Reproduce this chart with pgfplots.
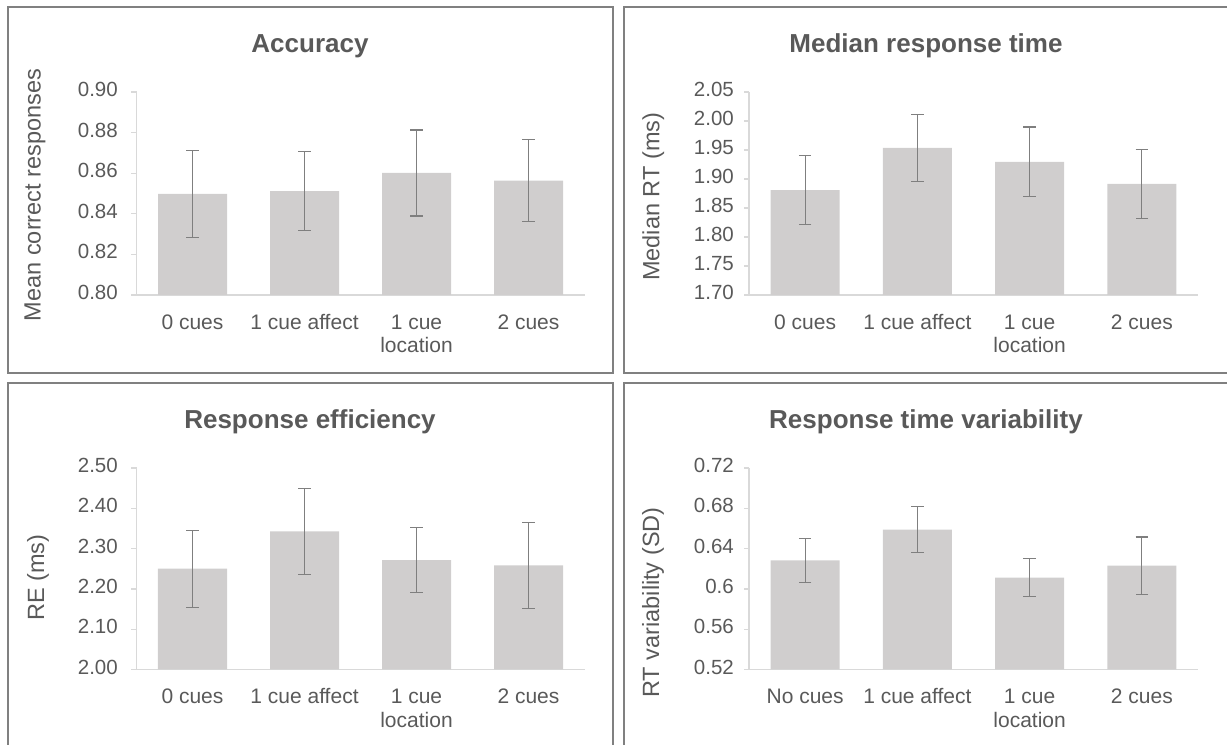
\documentclass[border=0pt]{standalone}
\usepackage{pgfplots}
\pgfplotsset{compat=1.18}
\usepackage{fontspec}
\setmainfont{Liberation Sans}
\definecolor{bargray}{HTML}{D0CECE}
\definecolor{errgray}{HTML}{7F7F7F}
\definecolor{axgray}{HTML}{D9D9D9}
\definecolor{txtgray}{HTML}{595959}
\definecolor{framegray}{HTML}{808080}
\pgfplotsset{
  panel/.style={
    scale only axis, anchor=south west,
    axis lines*=left,
    axis line style={draw=axgray, line width=1.3bp},
    xmin=-0.5, xmax=3.5,
    xtick={0,1,2,3},
    major x tick style={draw=none},
    major y tick style={draw=axgray, line width=1.3bp},
    major tick length=5bp, tick align=outside,
    /pgf/number format/assume math mode=true,
    yticklabel style={font=\fontsize{20.5bp}{23bp}\selectfont, text=txtgray},
    xticklabel style={font=\fontsize{21bp}{23.5bp}\selectfont, text=txtgray,
      align=center, anchor=north, inner sep=0pt, yshift=-12.8bp},
    typeset ticklabels with strut,
    xticklabels={{0 cues},{1 cue affect},{1 cue\\location},{2 cues}},
    every axis y label/.style={rotate=90, anchor=center,
      font=\fontsize{23.5bp}{27bp}\selectfont, text=txtgray},
    every axis title/.style={anchor=base,
      font=\bfseries\fontsize{26bp}{30bp}\selectfont, text=txtgray},
    clip=true,
  },
  leftpanel/.style={
    yticklabel style={anchor=east, inner sep=0pt, xshift=-13.5bp},
  },
  rightpanel/.style={
    yticklabel style={anchor=east, inner sep=0pt, xshift=-10bp},
  },
  bars/.style={
    ybar, fill=bargray, draw=none, bar width=69bp,
    error bars/.cd, y dir=both, y explicit,
    error bar style={draw=errgray, line width=1.1bp},
    error mark options={draw=errgray, line width=1.1bp, mark size=6.25bp, rotate=90},
  },
}
\begin{document}
\begin{tikzpicture}
\useasboundingbox (0bp,0bp) rectangle (1227bp,745bp);
\clip (0bp,0bp) rectangle (1227bp,745bp);
% panel frames
\draw[framegray, line width=2bp] (7.5bp,371.5bp) rectangle (613bp,737.5bp);
\draw[framegray, line width=2bp] (623.5bp,371.5bp) rectangle (1232bp,737.5bp);
\draw[framegray, line width=2bp] (7.5bp,-4.5bp) rectangle (613bp,361.5bp);
\draw[framegray, line width=2bp] (623.5bp,-4.5bp) rectangle (1232bp,361.5bp);

% Accuracy
\begin{axis}[panel, leftpanel, at={(136.5bp,450bp)}, width=448bp, height=203bp,
  ymin=0.80, ymax=0.90, ytick={0.80,0.82,0.84,0.86,0.88,0.90},
  y tick label style={/pgf/number format/fixed, /pgf/number format/fixed zerofill, /pgf/number format/precision=2},
  title={Accuracy},
  title style={at={(axis description cs:0.3873,1)}, yshift=39.3bp},
  ylabel={Mean correct responses},
  ylabel style={at={(axis description cs:-0.2266,0.4926)}},
]
\addplot[bars] coordinates {
  (0,0.8498) +- (0,0.0216)
  (1,0.8512) +- (0,0.0196)
  (2,0.8601) +- (0,0.0212)
  (3,0.8564) +- (0,0.0202)
};
\end{axis}

% Median response time
\begin{axis}[panel, rightpanel, at={(749bp,450bp)}, width=449bp, height=203bp,
  ymin=1.70, ymax=2.05, ytick={1.70,1.75,1.80,1.85,1.90,1.95,2.00,2.05},
  y tick label style={/pgf/number format/fixed, /pgf/number format/fixed zerofill, /pgf/number format/precision=2},
  title={Median response time},
  title style={at={(axis description cs:0.3942,1)}, yshift=39.3bp},
  ylabel={Median RT (ms)},
  ylabel style={at={(axis description cs:-0.2131,0.484)}},
]
\addplot[bars] coordinates {
  (0,1.8808) +- (0,0.0595)
  (1,1.9537) +- (0,0.0578)
  (2,1.9296) +- (0,0.0601)
  (3,1.8914) +- (0,0.0592)
};
\end{axis}

% Response efficiency
\begin{axis}[panel, leftpanel, at={(136.5bp,75.5bp)}, width=448bp, height=201.5bp,
  ymin=2.00, ymax=2.50, ytick={2.00,2.10,2.20,2.30,2.40,2.50},
  y tick label style={/pgf/number format/fixed, /pgf/number format/fixed zerofill, /pgf/number format/precision=2},
  title={Response efficiency},
  title style={at={(axis description cs:0.3873,1)}, yshift=39.3bp},
  ylabel={RE (ms)},
  ylabel style={at={(axis description cs:-0.2199,0.455)}},
]
\addplot[bars] coordinates {
  (0,2.2500) +- (0,0.0955)
  (1,2.3430) +- (0,0.1064)
  (2,2.2711) +- (0,0.0807)
  (3,2.2583) +- (0,0.1068)
};
\end{axis}

% Response time variability
\begin{axis}[panel, rightpanel, at={(749bp,75.5bp)}, width=449bp, height=201.5bp,
  ymin=0.52, ymax=0.72, ytick={0.52,0.56,0.60,0.64,0.68,0.72},
  y tick label style={/pgf/number format/fixed, /pgf/number format/precision=2},
  xticklabels={{No cues},{1 cue affect},{1 cue\\location},{2 cues}},
  title={Response time variability},
  title style={at={(axis description cs:0.3942,1)}, yshift=39.3bp},
  ylabel={RT variability (SD)},
  ylabel style={at={(axis description cs:-0.2138,0.3325)}},
]
\addplot[bars] coordinates {
  (0,0.6283) +- (0,0.0219)
  (1,0.6589) +- (0,0.0227)
  (2,0.6112) +- (0,0.0187)
  (3,0.6230) +- (0,0.0285)
};
\end{axis}
\end{tikzpicture}
\end{document}
